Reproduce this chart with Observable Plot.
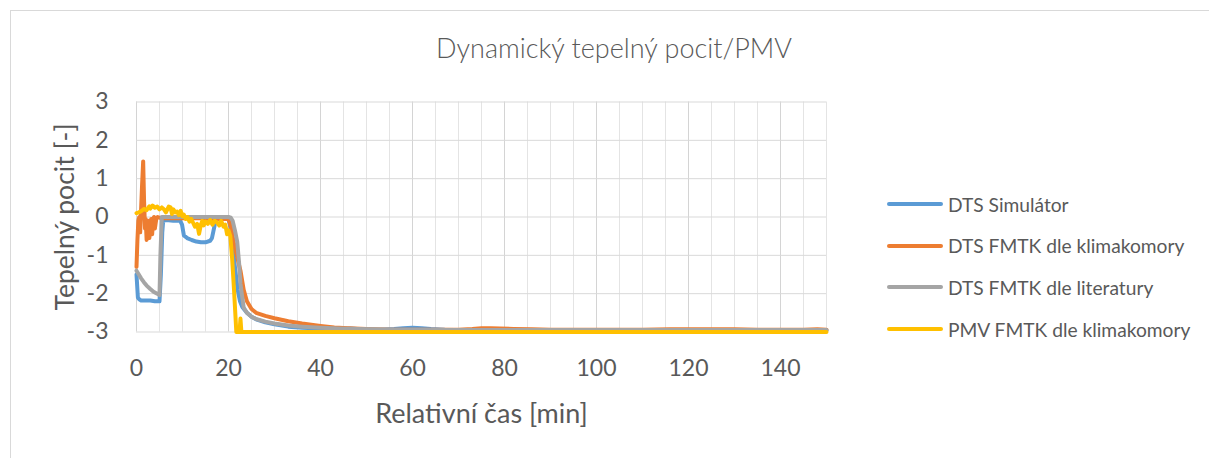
<!DOCTYPE html>
<html><head><meta charset="utf-8">
<script src="https://cdn.jsdelivr.net/npm/d3@7"></script>
<script src="https://cdn.jsdelivr.net/npm/@observablehq/plot@0.6"></script>
<style>
body{margin:0;background:#fff;}
#wrap{position:relative;width:1209px;height:458px;overflow:hidden;font-family:Lato,"Open Sans",sans-serif;color:#595959;background:#fff}
#frame{position:absolute;left:10px;top:10px;width:1300px;height:600px;border:1px solid #d9d9d9;}
#title{position:absolute;left:0;width:1228px;top:30px;text-align:center;font-size:27px;line-height:36px;white-space:nowrap;font-weight:300}
#chart{position:absolute;left:0;top:0}
#xlabel{position:absolute;left:0;width:963px;top:396px;text-align:center;font-size:27px;line-height:34px;white-space:nowrap}
#ylabel{position:absolute;left:63.5px;top:216.5px;font-size:26.5px;line-height:34px;white-space:nowrap;transform:translate(-50%,-50%) rotate(-90deg)}
.leg{position:absolute;left:886px;height:30px;display:flex;align-items:center;font-size:19.2px;white-space:nowrap}
.leg svg{margin-right:4px}
</style></head>
<body>
<div id="wrap">
  <div id="frame"></div>
  <div id="chart"></div>
  <div id="title"></div>
  <div id="xlabel"></div>
  <div id="ylabel"></div>
  <div id="legend"></div>
</div>
<script>
// ---- data ----
const titleText = "Dynamický tepelný pocit/PMV";
const xTitle = "Relativní čas [min]";
const yTitle = "Tepelný pocit [-]";
const xTicks = [0, 20, 40, 60, 80, 100, 120, 140];
const xMinorTicks = [5,10,15,25,30,35,45,50,55,65,70,75,85,90,95,105,110,115,125,130,135,145,150];
const yTicks = [-3, -2, -1, 0, 1, 2, 3];

const seriesNames = ["DTS Simulátor", "DTS FMTK dle klimakomory", "DTS FMTK dle literatury", "PMV FMTK dle klimakomory"];
const seriesColors = ["#5B9BD5", "#ED7D31", "#A5A5A5", "#FFC000"];

const blueT = [0,0.3,0.6,1,2,3,4,5,5.3,5.6,5.8,6.5,8,9.5,9.9,10.3,11,12,13,14,15,16,16.4,16.7,17.1,17.5,18,19,20,20.5,21,21.5,22,22.5,23,24,25,26,28,30,33,36,40,43,45,46.5,48,50,53,56,58,60,62,64,67,70,75,80,90,100,110,120,130,140,150];
const blueV = [-1.5,-2.1,-2.15,-2.18,-2.18,-2.18,-2.2,-2.2,-1.5,-0.4,-0.1,-0.08,-0.1,-0.1,-0.2,-0.48,-0.55,-0.6,-0.64,-0.66,-0.66,-0.62,-0.55,-0.38,-0.15,-0.05,-0.03,-0.03,-0.05,-0.3,-0.9,-1.4,-1.9,-2.2,-2.35,-2.5,-2.6,-2.67,-2.75,-2.8,-2.86,-2.89,-2.91,-2.93,-2.92,-2.91,-2.92,-2.94,-2.94,-2.92,-2.9,-2.89,-2.9,-2.92,-2.94,-2.95,-2.95,-2.95,-2.96,-2.96,-2.96,-2.96,-2.96,-2.96,-2.96];

const orangeT = [0,0.2,0.4,0.6,0.8,1.0,1.2,1.45,1.65,1.85,2.0,2.2,2.4,2.6,2.8,3.0,3.2,3.4,3.6,3.8,4.0,4.3,4.6,5.0,6,8,10,12,14,16,18,20,20.6,21.2,22,22.6,23.3,24,25,26,28,30,33,36,40,43,46,50,55,60,65,70,73,75,77,79,82,86,90,100,110,116,120,125,130,135,140,145,148,150];
const orangeV = [-1.3,-0.6,-0.1,0.0,-0.4,0.2,0.8,1.45,0.4,-0.3,-0.05,-0.6,-0.2,-0.1,-0.55,-0.2,-0.05,-0.45,-0.1,0.0,-0.3,-0.05,0.0,-0.02,-0.03,-0.03,-0.03,-0.03,-0.03,-0.05,-0.05,-0.05,-0.3,-0.7,-1.1,-1.4,-1.9,-2.2,-2.4,-2.5,-2.58,-2.64,-2.72,-2.78,-2.84,-2.88,-2.9,-2.92,-2.94,-2.94,-2.94,-2.94,-2.92,-2.9,-2.9,-2.91,-2.92,-2.93,-2.94,-2.94,-2.94,-2.93,-2.93,-2.93,-2.93,-2.94,-2.94,-2.94,-2.93,-2.94];

const grayT = [0,0.5,1,1.6,2.2,3,3.7,4.5,5.0,5.2,5.5,6,10,15,20,20.5,20.9,21.4,21.9,22.3,22.6,23.0,23.3,24,25,26,28,30,33,36,40,44,48,52,56,60,70,80,90,100,120,140,150];
const grayV = [-1.4,-1.5,-1.6,-1.7,-1.79,-1.88,-1.95,-2.0,-2.04,-1.0,0.0,0.0,0.0,0.0,0.0,-0.02,-0.1,-0.35,-0.65,-1.2,-1.74,-2.1,-2.36,-2.5,-2.6,-2.66,-2.73,-2.78,-2.83,-2.86,-2.89,-2.91,-2.92,-2.93,-2.94,-2.94,-2.95,-2.95,-2.95,-2.95,-2.95,-2.95,-2.95];

const yellowT = [0,0.5,1.0,1.6,2.2,2.8,3.0,3.5,4.0,4.5,5.0,5.5,5.9,6.4,7.0,7.4,7.7,8.0,8.4,8.8,9.2,9.6,10.0,10.3,10.7,11.1,11.5,11.9,12.3,12.7,13.2,13.6,14.0,14.3,14.6,15.0,15.5,16.0,16.5,17.0,17.5,18.0,18.4,18.9,19.3,19.7,20.0,20.4,20.8,21.2,21.7,22.0,22.4,22.6,22.8,23.5,30,40,60,80,100,120,140,150];
const yellowV = [0.1,0.12,0.15,0.21,0.18,0.28,0.22,0.3,0.24,0.27,0.2,0.25,0.21,0.12,0.27,0.25,0.08,0.2,0.12,0.14,0.05,0.16,0.02,0.06,-0.05,0.0,-0.12,-0.05,-0.15,-0.25,-0.18,-0.44,-0.2,-0.1,-0.22,-0.12,-0.18,-0.08,-0.2,-0.1,-0.14,-0.22,-0.1,-0.25,-0.2,-0.45,-0.35,-0.5,-1.1,-1.9,-3.0,-3.0,-3.0,-2.65,-3.0,-3.0,-3.0,-3.0,-3.0,-3.0,-3.0,-3.0,-3.0,-3.0];

// ---- build ----
const allT = [blueT, orangeT, grayT, yellowT];
const allV = [blueV, orangeV, grayV, yellowV];
const rows = (ti) => allT[ti].map((t, i) => ({t, v: allV[ti][i]}));

const font = 'Lato, "Open Sans", sans-serif';
const chart = Plot.plot({
  width: 860, height: 400,
  marginLeft: 136, marginRight: 34, marginTop: 101.5, marginBottom: 68.5,
  style: {fontSize: "23px", fontFamily: font, color: "#595959", background: "transparent", overflow: "visible"},
  x: {domain: [0, 150], ticks: xTicks, tickSize: 0, tickPadding: 28, label: null, tickFormat: d => String(d)},
  y: {domain: [-3, 3], ticks: yTicks, tickSize: 0, tickPadding: 28, label: null, tickFormat: d => String(d)},
  marks: [
    Plot.ruleX(xMinorTicks, {stroke: "#e4e4e4", strokeWidth: 1}),
    Plot.ruleX(xTicks, {stroke: "#d4d4d4", strokeWidth: 1}),
    Plot.ruleY(yTicks, {stroke: "#d9d9d9", strokeWidth: 1}),
    ...[0,1,2,3].map(k => Plot.line(rows(k), {x: "t", y: "v", stroke: seriesColors[k], strokeWidth: 4, strokeLinejoin: "round", strokeLinecap: "round"}))
  ]
});
document.getElementById("chart").appendChild(chart);
document.getElementById("title").textContent = titleText;
document.getElementById("xlabel").textContent = xTitle;
document.getElementById("ylabel").textContent = yTitle;

const legendCenters = [204, 245.7, 287, 329];
const leg = document.getElementById("legend");
seriesNames.forEach((name, k) => {
  const d = document.createElement("div");
  d.className = "leg";
  d.style.top = (legendCenters[k] - 15) + "px";
  d.innerHTML = `<svg width="58" height="10"><line x1="3" y1="5" x2="55" y2="5" stroke="${seriesColors[k]}" stroke-width="4" stroke-linecap="round"/></svg><span></span>`;
  d.querySelector("span").textContent = name;
  leg.appendChild(d);
});
</script>
</body></html>
